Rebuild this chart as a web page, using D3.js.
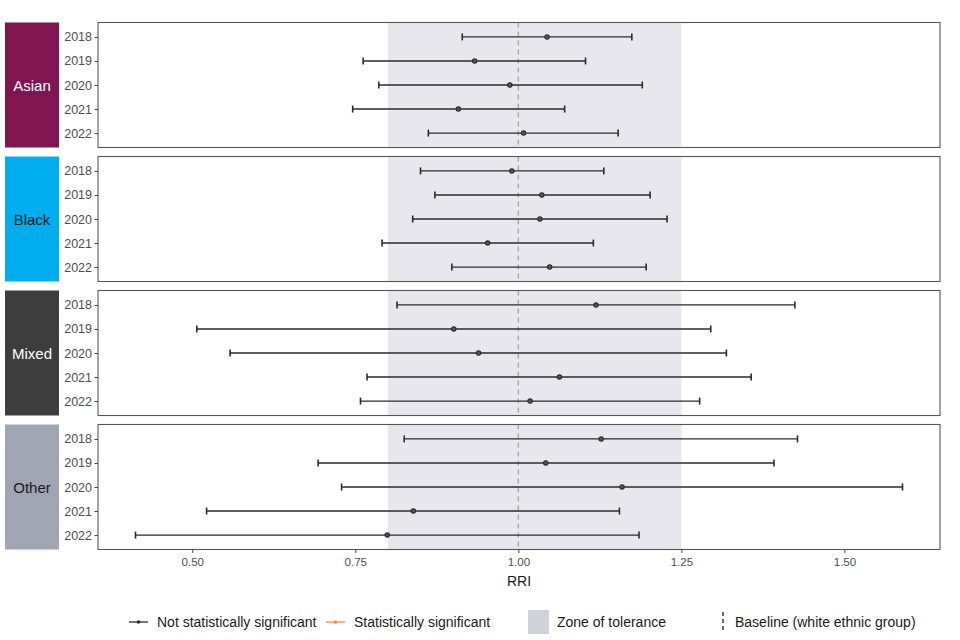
<!DOCTYPE html>
<html>
<head>
<meta charset="utf-8">
<script src="https://cdn.jsdelivr.net/npm/d3@7"></script>
<style>
  html, body { margin: 0; padding: 0; background: #ffffff; }
  svg { display: block; font-family: "Liberation Sans", Arial, Helvetica, sans-serif; }
</style>
</head>
<body>
<svg id="chart" width="960" height="640"></svg>
<script>
// ---- Data ----
const years = ["2018", "2019", "2020", "2021", "2022"];
const groups = ["Asian", "Black", "Mixed", "Other"];
const xTicks = [0.50, 0.75, 1.00, 1.25, 1.50];

const asianRRI   = [1.044, 0.933, 0.987, 0.908, 1.008];
const asianLower = [0.914, 0.762, 0.786, 0.746, 0.862];
const asianUpper = [1.174, 1.103, 1.190, 1.071, 1.153];

const blackRRI   = [0.990, 1.036, 1.033, 0.953, 1.048];
const blackLower = [0.850, 0.872, 0.838, 0.791, 0.898];
const blackUpper = [1.131, 1.202, 1.228, 1.115, 1.196];

const mixedRRI   = [1.119, 0.901, 0.939, 1.063, 1.018];
const mixedLower = [0.814, 0.507, 0.558, 0.768, 0.758];
const mixedUpper = [1.424, 1.295, 1.319, 1.357, 1.278];

const otherRRI   = [1.127, 1.042, 1.159, 0.839, 0.799];
const otherLower = [0.825, 0.693, 0.729, 0.522, 0.413];
const otherUpper = [1.428, 1.392, 1.589, 1.155, 1.185];

const significant = ["No", "No", "No", "No", "No"]; // same pattern in every group

const zoneLow = 0.8, zoneHigh = 1.25, baseline = 1.0;

const stripColors = { Asian: "#801650", Black: "#00AEEF", Mixed: "#3D3D3D", Other: "#A0A5B4" };
const stripText   = { Asian: "#ffffff", Black: "#1a1a1a", Mixed: "#ffffff", Other: "#1a1a1a" };

const seriesByGroup = {
  Asian: [asianRRI, asianLower, asianUpper],
  Black: [blackRRI, blackLower, blackUpper],
  Mixed: [mixedRRI, mixedLower, mixedUpper],
  Other: [otherRRI, otherLower, otherUpper]
};

// ---- Layout ----
const svg = d3.select("#chart");
const panelLeft = 98, panelRight = 940;
const panelTop = 22, panelH = 125, panelGap = 9;
const stripLeft = 5, stripRight = 59;

const x = d3.scaleLinear().domain([0.3555, 1.6465]).range([panelLeft, panelRight]);
const y = d3.scalePoint().domain(years).range([0, panelH]).padding(0.6);

groups.forEach((g, gi) => {
  const top = panelTop + gi * (panelH + panelGap);
  const [est, lo, hi] = seriesByGroup[g];
  const rows = years.map((yr, i) => ({ year: yr, est: est[i], lo: lo[i], hi: hi[i], sig: significant[i] }));

  const gp = svg.append("g").attr("transform", `translate(0,${top + 0.5})`);

  // strip
  gp.append("rect")
    .attr("x", stripLeft).attr("y", 0)
    .attr("width", stripRight - stripLeft).attr("height", panelH)
    .attr("fill", stripColors[g]);
  gp.append("text")
    .attr("x", (stripLeft + stripRight) / 2).attr("y", panelH / 2)
    .attr("text-anchor", "middle").attr("dominant-baseline", "central")
    .attr("font-size", 15).attr("fill", stripText[g])
    .text(g);

  // panel background
  gp.append("rect")
    .attr("x", panelLeft).attr("y", 0)
    .attr("width", panelRight - panelLeft).attr("height", panelH)
    .attr("fill", "#ffffff");

  // zone of tolerance
  gp.append("rect")
    .attr("x", x(zoneLow)).attr("y", 0)
    .attr("width", x(zoneHigh) - x(zoneLow)).attr("height", panelH)
    .attr("fill", "#e8e7ed");

  // baseline
  gp.append("line")
    .attr("x1", x(baseline)).attr("x2", x(baseline))
    .attr("y1", 0).attr("y2", panelH)
    .attr("stroke", "#a9a9a9").attr("stroke-width", 1.4)
    .attr("stroke-dasharray", "5,4");

  // error bars
  const bars = gp.selectAll(".eb").data(rows).enter().append("g").attr("class", "eb");
  const col = d => d.sig === "Yes" ? "#F46A25" : "#2b2b2b";
  bars.append("line")
    .attr("x1", d => x(d.lo)).attr("x2", d => x(d.hi))
    .attr("y1", d => y(d.year)).attr("y2", d => y(d.year))
    .attr("stroke", col).attr("stroke-width", 1.4);
  bars.append("line")
    .attr("x1", d => x(d.lo)).attr("x2", d => x(d.lo))
    .attr("y1", d => y(d.year) - 3.5).attr("y2", d => y(d.year) + 3.5)
    .attr("stroke", col).attr("stroke-width", 1.6);
  bars.append("line")
    .attr("x1", d => x(d.hi)).attr("x2", d => x(d.hi))
    .attr("y1", d => y(d.year) - 3.5).attr("y2", d => y(d.year) + 3.5)
    .attr("stroke", col).attr("stroke-width", 1.6);
  bars.append("circle")
    .attr("cx", d => x(d.est)).attr("cy", d => y(d.year))
    .attr("r", 2.2)
    .attr("fill", "#555555").attr("stroke", col).attr("stroke-width", 1.1);

  // panel border
  gp.append("rect")
    .attr("x", panelLeft).attr("y", 0)
    .attr("width", panelRight - panelLeft).attr("height", panelH)
    .attr("fill", "none").attr("stroke", "#555555").attr("stroke-width", 1.1);

  // y axis
  const yAxis = gp.append("g").attr("transform", `translate(${panelLeft},0)`)
    .call(d3.axisLeft(y).tickSize(3.5).tickPadding(2.5));
  yAxis.select(".domain").remove();
  yAxis.selectAll(".tick line").attr("stroke", "#444").attr("stroke-width", 1);
  yAxis.selectAll(".tick text").attr("font-size", 12.5).attr("fill", "#4d4d4d")
    .attr("font-family", "'Liberation Sans', Arial, sans-serif");
});

// x axis
const bottom = panelTop + groups.length * panelH + (groups.length - 1) * panelGap + 0.5;
const xAxis = svg.append("g").attr("transform", `translate(0,${bottom})`)
  .call(d3.axisBottom(x).tickValues(xTicks).tickFormat(d3.format(".2f")).tickSize(3.5).tickPadding(4.5));
xAxis.select(".domain").remove();
xAxis.selectAll(".tick line").attr("stroke", "#444");
xAxis.selectAll(".tick text").attr("font-size", 11.5).attr("fill", "#4d4d4d")
  .attr("font-family", "'Liberation Sans', Arial, sans-serif");

svg.append("text")
  .attr("x", (panelLeft + panelRight) / 2).attr("y", bottom + 36)
  .attr("text-anchor", "middle").attr("font-size", 14).attr("fill", "#1a1a1a")
  .text("RRI");

// legend
const ly = 622;
const lfs = 14;
const lg = svg.append("g");
// not significant
lg.append("line").attr("x1", 129).attr("x2", 148).attr("y1", ly).attr("y2", ly)
  .attr("stroke", "#2b2b2b").attr("stroke-width", 1.3);
lg.append("circle").attr("cx", 138.5).attr("cy", ly).attr("r", 1.8).attr("fill", "#2b2b2b");
lg.append("text").attr("x", 157).attr("y", ly).attr("dominant-baseline", "central")
  .attr("font-size", lfs).attr("fill", "#1a1a1a").text("Not statistically significant");
// significant
lg.append("line").attr("x1", 326).attr("x2", 345).attr("y1", ly).attr("y2", ly)
  .attr("stroke", "#F4874A").attr("stroke-width", 1.3);
lg.append("circle").attr("cx", 335.5).attr("cy", ly).attr("r", 1.8).attr("fill", "#F4874A");
lg.append("text").attr("x", 354).attr("y", ly).attr("dominant-baseline", "central")
  .attr("font-size", lfs).attr("fill", "#1a1a1a").text("Statistically significant");
// zone
lg.append("rect").attr("x", 528).attr("y", ly - 12).attr("width", 21).attr("height", 24)
  .attr("fill", "#d0d2db");
lg.append("text").attr("x", 557).attr("y", ly).attr("dominant-baseline", "central")
  .attr("font-size", lfs).attr("fill", "#1a1a1a").text("Zone of tolerance");
// baseline
lg.append("line").attr("x1", 723).attr("x2", 723).attr("y1", ly - 10).attr("y2", ly + 10)
  .attr("stroke", "#1a1a1a").attr("stroke-width", 1.3).attr("stroke-dasharray", "4,3");
lg.append("text").attr("x", 735).attr("y", ly).attr("dominant-baseline", "central")
  .attr("font-size", lfs).attr("fill", "#1a1a1a").text("Baseline (white ethnic group)");
</script>
</body>
</html>
